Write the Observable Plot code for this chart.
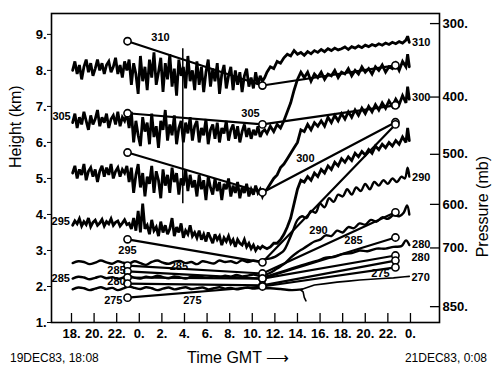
<!DOCTYPE html>
<html><head><meta charset="utf-8">
<script src="https://cdn.jsdelivr.net/npm/d3@7"></script>
<script src="https://cdn.jsdelivr.net/npm/@observablehq/plot@0.6"></script>
<style>
body{margin:0;background:#fff;}
#wrap{width:493px;height:368px;position:relative;font-family:"Liberation Sans",Arial,sans-serif;color:#000;background:#fff;overflow:hidden;}
#foot{position:absolute;top:340px;left:0;width:493px;height:28px;}
#foot span{position:absolute;white-space:nowrap;}
</style></head><body>
<div id="wrap"><div id="chart"></div>
<div id="foot">
<span id="fl" style="left:10px;top:11px;font-size:12px;"></span>
<span id="fc" style="left:187px;top:8px;font-size:16px;"></span>
<span id="fr" style="right:6px;top:11px;font-size:12px;"></span>
</div></div>
<script>
// ---- axis ticks ----
const hourTicks = [18,20,22,24,26,28,30,32,34,36,38,40,42,44,46,48];
const heightTicks = [1,2,3,4,5,6,7,8,9];
const pressureLabels = ["300.","400.","500.","600.","700.","850."];
const pressureKm = [9.30, 7.26, 5.67, 4.28, 3.07, 1.44];
const footLeft = "19DEC83, 18:08", footCenter = "Time GMT \u27F6", footRight = "21DEC83, 0:08";

// ---- dense (noisy) part sampling: hours 18.1 .. 35.1 every 0.2 h ----
const denseStart = 18.1, denseStep = 0.2;
const t310Left = [8.0,8.25,7.9,8.15,7.75,8.1,8.3,7.95,8.2,7.85,8.05,8.3,8.0,8.2,7.9,8.15,8.25,7.95,8.1,8.35,7.9,8.15,7.8,8.25,8.0,
 8.3,7.6,8.2,7.9,7.35,8.4,7.7,8.1,7.45,8.3,7.8,8.5,7.6,7.95,8.35,7.4,8.2,7.75,8.45,7.55,8.05,7.3,8.3,7.85,8.1,7.5,8.4,7.7,8.0,7.45,
 8.25,7.6,8.1,7.4,7.95,8.3,7.55,8.05,7.7,8.2,7.35,7.9,8.15,7.5,7.85,8.1,7.45,8.0,7.6,7.95,7.4,7.85,8.05,7.55,7.8,7.5,7.95,7.6,7.85,7.7,7.8];
const t305Left = [6.55,6.8,6.4,6.7,6.5,6.85,6.6,6.35,6.75,6.5,6.65,6.9,6.45,6.7,6.55,6.8,6.4,6.65,6.75,6.5,6.85,6.45,6.7,6.6,6.8,
 6.4,6.85,6.0,6.6,6.2,5.9,6.7,6.3,6.55,5.95,6.8,6.15,6.45,5.85,6.6,6.35,6.9,6.05,6.5,6.2,6.75,5.95,6.4,6.6,6.0,6.55,6.25,6.7,6.05,6.45,
 6.6,6.0,6.4,6.2,6.65,5.95,6.35,6.5,6.1,6.55,6.0,6.4,6.25,6.6,6.05,6.35,6.5,6.1,6.45,6.0,6.3,6.5,6.15,6.4,6.1,6.35,6.2,6.45,6.15,6.3,6.35];
const t300Left = [5.15,5.35,5.0,5.25,5.1,5.4,4.95,5.2,5.3,5.05,5.25,4.9,5.2,5.35,5.05,5.3,5.1,5.4,5.0,5.2,5.3,5.05,5.25,5.15,5.35,
 4.9,5.3,4.6,5.1,5.4,4.75,5.15,4.5,5.05,4.85,5.35,4.6,5.2,4.95,4.45,5.25,4.8,5.1,4.6,5.3,4.9,5.15,4.55,5.0,4.8,5.25,4.65,5.1,4.75,4.95,
 4.5,5.1,4.7,4.95,4.4,5.05,4.75,4.55,5.0,4.65,4.9,4.4,4.85,4.7,5.0,4.5,4.8,4.6,4.9,4.45,4.75,4.6,4.85,4.5,4.7,4.55,4.8,4.6,4.7,4.5,4.65];
const t295Left = [3.7,3.82,3.74,3.88,3.68,3.8,3.72,3.9,3.66,3.78,3.84,3.7,3.76,3.86,3.68,3.8,3.74,3.88,3.7,3.78,3.82,3.68,3.76,3.85,3.72,
 3.75,3.6,3.9,3.55,4.1,3.5,4.3,3.6,3.7,3.45,3.85,3.55,3.65,3.4,3.8,3.5,3.7,3.45,3.6,3.9,3.4,3.65,3.5,3.75,3.35,3.55,3.45,3.7,3.4,3.5,
 3.35,3.55,3.3,3.45,3.25,3.5,3.35,3.2,3.45,3.3,3.4,3.15,3.35,3.25,3.4,3.2,3.3,3.1,3.3,3.2,3.15,3.3,3.1,3.2,3.05,3.15,3.0,3.1,3.05,3.12,3.08];

// ---- smoother low traces: hours 18.1 .. 35.1 every 0.5 h ----
const lowStart = 18.1, lowStep = 0.5;
const t290Left = [2.65,2.7,2.68,2.62,2.66,2.72,2.67,2.63,2.7,2.66,2.64,2.7,2.65,2.6,2.68,2.72,2.66,2.63,2.69,2.71,
 2.65,2.68,2.62,2.7,2.67,2.64,2.72,2.68,2.7,2.65,2.73,2.68,2.72,2.7,2.75];
const t285Left = [2.22,2.27,2.25,2.2,2.24,2.28,2.23,2.26,2.21,2.25,2.29,2.24,2.22,2.27,2.25,2.3,2.26,2.23,2.28,2.25,
 2.22,2.27,2.3,2.26,2.24,2.28,2.25,2.3,2.27,2.32,2.28,2.3,2.33,2.3,2.32];
const t270Left = [1.92,1.97,1.95,1.9,1.94,1.98,1.93,1.96,1.9,1.95,2.0,1.96,1.93,1.98,1.95,1.9,1.94,1.97,1.92,1.95,
 1.98,1.93,1.95,1.97,1.92,1.95,1.98,1.94,1.96,1.92,1.95,1.97,1.94,1.96,1.95];

// ---- right-hand parts (hours, km) ----
const rightHours = [35.3,35.6,35.9,36.2,36.5,36.8,37.1,37.4,37.7,38.0,38.3,38.6,38.9,39.2,39.5,39.8,40.1,40.4,40.7,41.0,41.3,41.6,41.9,42.2,42.5,42.8,43.1,43.4,43.7,44.0,44.3,44.6,44.9,45.2,45.5,45.8,46.1,46.4,46.7,47.0,47.3,47.6,47.75,47.9];
const t310RightK = [7.95,8.1,8.05,8.25,8.2,8.35,8.45,8.4,8.55,8.45,8.5,8.42,8.52,8.46,8.55,8.5,8.58,8.52,8.6,8.55,8.62,8.57,8.6,8.65,8.58,8.66,8.62,8.68,8.63,8.7,8.66,8.72,8.68,8.74,8.7,8.76,8.72,8.78,8.74,8.8,8.76,8.84,8.95,8.78];
const t305RightK = [6.25,6.45,6.3,6.5,6.4,6.6,6.85,7.1,7.45,7.75,7.95,7.8,7.95,7.7,7.9,7.8,7.95,7.75,7.9,7.85,8.0,7.8,7.95,7.9,8.05,7.85,8.0,7.9,8.1,7.95,8.05,7.9,8.1,8.0,8.15,7.95,8.1,8.05,8.2,8.0,8.25,8.1,8.45,8.1];
const t300RightK = [4.7,4.85,5.0,5.1,5.3,5.4,5.55,5.7,5.85,6.0,6.35,6.3,6.5,6.35,6.55,6.45,6.6,6.45,6.7,6.55,6.75,6.6,6.8,6.65,6.85,6.7,6.9,6.75,6.95,6.8,7.0,6.85,7.05,6.9,7.1,6.95,7.15,7.0,7.2,7.05,7.3,7.1,7.55,7.2];
const t295RightK = [3.05,3.1,3.2,3.2,3.3,3.45,3.65,3.9,4.3,4.7,4.95,4.9,5.05,4.95,5.15,5.05,5.25,5.15,5.35,5.25,5.45,5.35,5.55,5.45,5.6,5.5,5.7,5.6,5.75,5.65,5.8,5.7,5.9,5.8,5.95,5.85,6.0,5.9,6.05,5.95,6.15,6.0,6.4,6.05];
const t290RightH = [35.6,36.0,36.4,36.8,37.2,37.6,38.0,38.4,38.8,39.2,39.6,40.0,40.4,40.8,41.2,41.6,42.0,42.4,42.8,43.2,43.6,44.0,44.4,44.8,45.2,45.6,46.0,46.4,46.8,47.2,47.5,47.75,47.9];
const t290RightK = [2.78,2.82,2.9,3.0,3.25,3.55,3.85,3.95,3.9,4.1,4.05,4.3,4.2,4.45,4.35,4.55,4.5,4.7,4.55,4.75,4.65,4.85,4.7,4.9,4.8,4.95,4.85,5.0,4.9,5.05,5.0,5.3,5.05];
const t285RightH = [35.6,36.2,36.8,37.4,38.0,38.5,39.0,39.5,40.0,40.5,41.0,41.5,42.0,42.5,43.0,43.5,44.0,44.5,45.0,45.5,46.0,46.5,47.0,47.4,47.7,47.9];
const t285RightK = [2.38,2.5,2.62,2.8,2.95,3.05,3.15,3.25,3.3,3.42,3.4,3.55,3.5,3.65,3.62,3.75,3.72,3.85,3.8,3.92,3.88,3.98,3.95,4.05,4.25,4.0];
const t280H = [35.0,36.0,37.0,38.0,39.0,39.8,40.5,41.2,42.0,42.8,43.5,44.2,45.0,45.8,46.5,47.2,47.6,47.9];
const t280K = [2.25,2.35,2.45,2.55,2.65,2.72,2.8,2.82,2.9,2.93,3.0,2.98,3.05,3.05,3.1,3.12,3.28,3.15];
const t270MidH = [35.6,36.5,37.5,38.4];
const t270MidK = [1.95,1.93,1.9,1.92];
const t270RightH = [38.4,39.5,40.5,41.5,42.5,43.5,44.5,45.5,46.5,47.5,47.9];
const t270RightK = [1.92,2.04,2.08,2.12,2.15,2.18,2.2,2.22,2.24,2.27,2.28];
const hookH = [38.3,38.5,38.6,38.75];
const hookK = [1.9,1.85,1.7,1.6];
const spikeHour = [27.85], spikeLow = [4.3], spikeHigh = [8.6];

// ---- analysed isentropes (soundings) ----
const soundingHours = [22.96, 34.9, 46.67];
const iso310 = [8.81, 7.58, 8.14];
const iso305 = [6.81, 6.50, 7.03];
const iso300 = [5.72, 4.61, 6.56];
const iso295 = [3.31, 2.67, 6.50];
const iso290 = [2.58, 2.36, 4.06];
const iso285 = [2.42, 2.22, 3.36];
const iso280 = [2.25, 2.22, 2.86];
const iso278 = [2.08, 2.03, 2.72];
const iso275 = [1.69, 2.00, 2.53];

// ---- labels ----
const labelText = ["310","305","295","285","305","300","295","285","275","275","285","280","290","285","275","280","270","310","300","290","280"];
const labelHour = [25.88,17.12,17.05,17.05,33.84,38.7,22.96,27.5,28.7,21.7,21.98,21.98,39.86,42.96,45.35,48.9,48.9,48.95,48.95,48.95,48.95];
const labelKm = [8.92,6.72,3.80,2.22,6.80,5.56,3.00,2.56,1.61,1.61,2.44,2.14,3.56,3.28,2.36,2.80,2.25,8.78,7.25,5.03,3.17];

// ---- build rows ----
const seq = (start, step, arr, name) => arr.map((v,i)=>({h: start + i*step, km: v, s: name}));
const pairs = (hs, ks, name) => hs.map((h,i)=>({h, km: ks[i], s: name}));
const heavy = [].concat(
  seq(denseStart, denseStep, t310Left, "310"), pairs(rightHours, t310RightK, "310"),
  seq(denseStart, denseStep, t305Left, "305"), pairs(rightHours, t305RightK, "305"),
  seq(denseStart, denseStep, t300Left, "300"), pairs(rightHours, t300RightK, "300"),
  seq(denseStart, denseStep, t295Left, "295"), pairs(rightHours, t295RightK, "295")
);
const medium = [].concat(
  seq(lowStart, lowStep, t290Left, "290"), pairs(t290RightH, t290RightK, "290"),
  seq(lowStart, lowStep, t285Left, "285"), pairs(t285RightH, t285RightK, "285"),
  pairs(t280H, t280K, "280"),
  seq(lowStart, lowStep, t270Left, "270"), pairs(t270MidH, t270MidK, "270")
);
const thin = [].concat(pairs(t270RightH, t270RightK, "270r"), pairs(hookH, hookK, "hook"));
const isoSets = {iso310, iso305, iso300, iso295, iso290, iso285, iso280, iso278, iso275};
const isoRows = [];
for (const [name, arr] of Object.entries(isoSets)) arr.forEach((k,i)=>isoRows.push({h: soundingHours[i], km: k, s: name}));
const labels = labelText.map((t,i)=>({t, h: labelHour[i], km: labelKm[i]}));
const spikes = spikeHour.map((h,i)=>({h, lo: spikeLow[i], hi: spikeHigh[i]}));
const pLabel = new Map(pressureKm.map((k,i)=>[k, pressureLabels[i]]));
const xDomain = [16.23, 50.57];

const chart = Plot.plot({
  width: 493, height: 340,
  marginLeft: 51, marginRight: 54, marginTop: 13, marginBottom: 18,
  x: {domain: xDomain, axis: null},
  y: {domain: [1, 9.58], axis: null},
  style: {fontFamily: "'Liberation Sans', Arial, sans-serif", fontSize: "13px", fontWeight: "bold", color: "#000", background: "#fff", overflow: "visible"},
  marks: [
    Plot.line(heavy, {x: "h", y: "km", z: "s", stroke: "#000", strokeWidth: 2.8, strokeLinejoin: "miter", strokeMiterlimit: 3}),
    Plot.line(medium, {x: "h", y: "km", z: "s", stroke: "#000", strokeWidth: 2.4, curve: "catmull-rom"}),
    Plot.line(thin, {x: "h", y: "km", z: "s", stroke: "#000", strokeWidth: 1.6}),
    Plot.ruleX(spikes, {x: "h", y1: "lo", y2: "hi", stroke: "#000", strokeWidth: 1.5}),
    Plot.line(isoRows, {x: "h", y: "km", z: "s", stroke: "#000", strokeWidth: 2.2}),
    Plot.dot(isoRows, {x: "h", y: "km", r: 3.6, fill: "#fff", stroke: "#000", strokeWidth: 1.6}),
    Plot.text(labels, {x: "h", y: "km", text: "t", fontSize: 11, fontWeight: "bold"}),
    Plot.frame({stroke: "#000", strokeWidth: 1.6}),
    Plot.ruleX(hourTicks, {x: d=>d, y1: 1, y2: 1.25, stroke: "#000", strokeWidth: 1.3}),
    Plot.ruleY(pressureKm, {y: d=>d, x1: xDomain[1]-0.8, x2: xDomain[1], stroke: "#000", strokeWidth: 1.3}),
    Plot.axisX({anchor: "bottom", ticks: hourTicks, tickFormat: h => `${h % 24}.`, tickSize: 0, tickPadding: 6, label: null}),
    Plot.axisY({anchor: "left", ticks: heightTicks, tickFormat: d => `${d}.`, tickSize: 4, tickPadding: 1, label: null}),
    Plot.axisY({anchor: "right", ticks: pressureKm, tickFormat: d => pLabel.get(d), tickSize: 0, tickPadding: 3, label: null}),
    Plot.text(["Height (km)"], {frameAnchor: "left", dx: -36, rotate: -90, fontSize: 16, fontWeight: "normal"}),
    Plot.text(["Pressure (mb)"], {frameAnchor: "right", dx: 43, dy: -12, rotate: -90, fontSize: 16, fontWeight: "normal"})
  ]
});
document.getElementById("chart").appendChild(chart);
document.getElementById("fl").textContent = footLeft;
document.getElementById("fc").textContent = footCenter;
document.getElementById("fr").textContent = footRight;
</script>
</body></html>
